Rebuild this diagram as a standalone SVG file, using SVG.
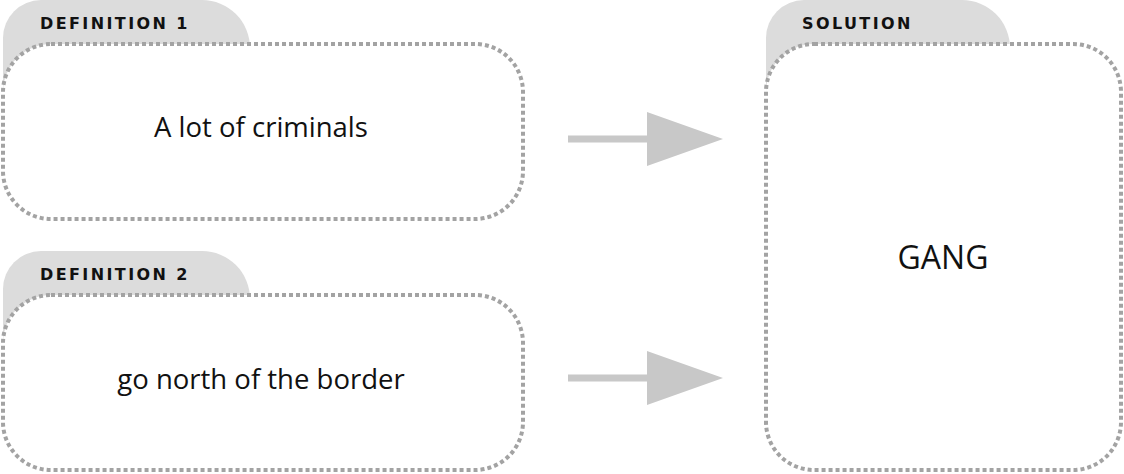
<svg xmlns="http://www.w3.org/2000/svg" width="1124" height="474" viewBox="0 0 1124 474">
<style>
.tab{fill:#dcdcdc}
.box{fill:#ffffff;stroke:#a3a3a3;stroke-width:4;stroke-dasharray:4 3}
.lbl{font-family:"DejaVu Sans",sans-serif;font-weight:bold;font-size:16px;letter-spacing:2.4px;fill:#111}
.txt{font-family:"Open Sans","Liberation Sans",sans-serif;font-size:27.5px;fill:#111;text-anchor:middle}
.arr{fill:#c8c8c8}
</style>
<rect width="1124" height="474" fill="#fff"/>
<g id="def1">
<path class="tab" d="M3 110 V38 A38 38 0 0 1 41 0 H202 A48 48 0 0 1 250 48 V110 Z"/>
<rect class="box" x="3" y="44" width="520" height="175" rx="48"/>
<text class="lbl" x="40" y="29">DEFINITION 1</text>
<text class="txt" x="261" y="137">A lot of criminals</text>
</g>
<g id="def2">
<path class="tab" d="M3 360 V289 A38 38 0 0 1 41 251 H202 A48 48 0 0 1 250 299 V360 Z"/>
<rect class="box" x="3" y="295" width="520" height="175" rx="48"/>
<text class="lbl" x="40" y="280">DEFINITION 2</text>
<text class="txt" x="261" y="389">go north of the border</text>
</g>
<g id="solution">
<path class="tab" d="M766 110 V38 A38 38 0 0 1 804 0 H962 A48 48 0 0 1 1010 48 V110 Z"/>
<rect class="box" x="766" y="44" width="355" height="426" rx="48"/>
<text class="lbl" x="802" y="29">SOLUTION</text>
<text class="txt" x="943" y="269" style="font-size:32px">GANG</text>
</g>
<g id="connectors">
<path class="arr" d="M568 135.5 H647 V112 L723 139 L647 166 V142.5 H568 Z"/>
<path class="arr" d="M568 374.5 H647 V351 L723 378 L647 405 V381.5 H568 Z"/>
</g>
</svg>
